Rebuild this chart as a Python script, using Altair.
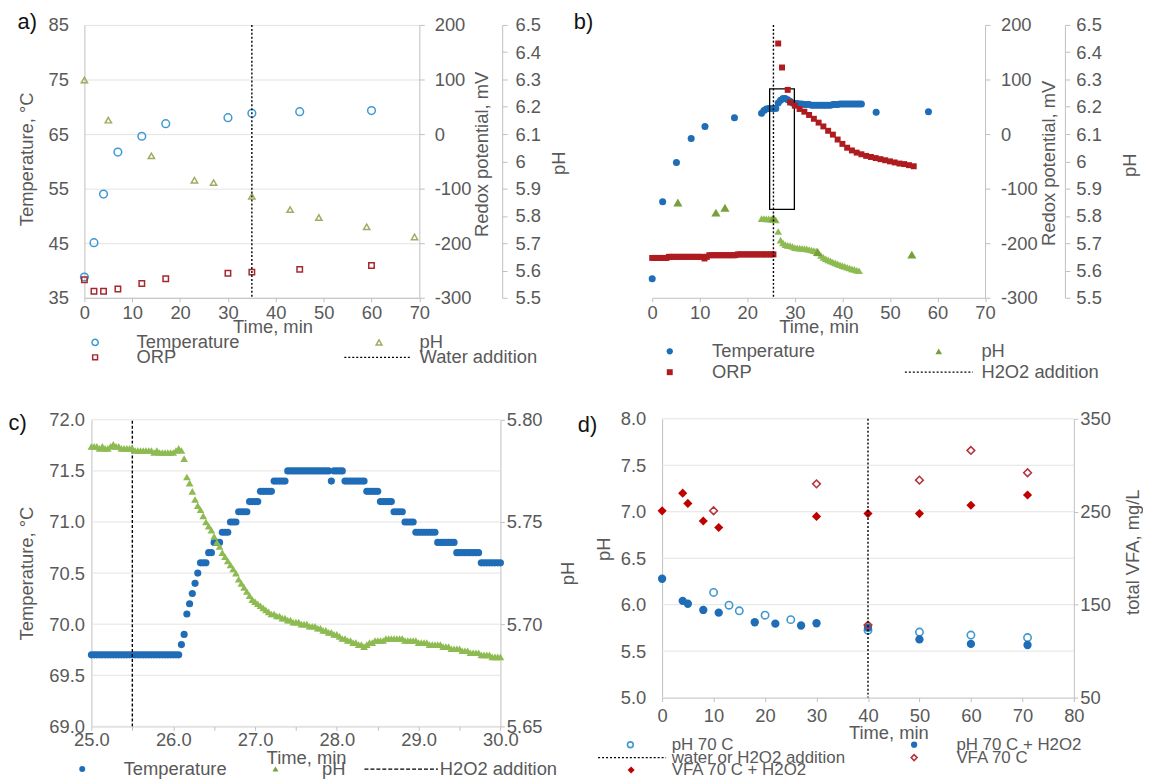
import altair as alt
import pandas as pd

# ======================= DATA =======================
# ---- panel a) water addition ----
a_temp_time = [0, 2, 4, 7, 12, 17, 30, 35, 45, 60]
a_temp = [38.8, 45.1, 54.0, 61.7, 64.6, 66.9, 68.0, 68.8, 69.1, 69.3]
a_orp_time = [0, 2, 4, 7, 12, 17, 30, 35, 45, 60]
a_orp = [-267, -288, -288, -284, -274, -265, -255, -253, -248, -241]
a_ph_time = [0, 5, 14, 23, 27, 35, 43, 49, 59, 69]
a_ph = [6.298, 6.151, 6.020, 5.931, 5.922, 5.872, 5.823, 5.794, 5.760, 5.723]
a_addition_time = [35]

# ---- panel b) H2O2 addition ----
b_temp_time = [0, 2.2, 5.1, 8.2, 11.1, 17.3,
               23.0, 23.5, 24.0, 24.5, 25.0, 25.5, 26.0, 26.5, 27.0, 27.5,
               28.0, 28.5, 29.0, 29.5, 30.0, 30.5, 31.0, 31.5, 32.0, 32.5,
               33.0, 33.5, 34.0, 34.5, 35.0, 35.5, 36.0, 36.5, 37.0, 37.5,
               38.0, 38.5, 39.0, 39.5, 40.0, 40.5, 41.0, 41.5, 42.0, 42.5,
               43.0, 43.5, 44.0, 47.1, 58.1]
b_temp = [38.5, 52.6, 59.8, 64.2, 66.4, 68.0,
          68.8, 69.3, 69.6, 69.7, 69.7, 69.7, 69.7, 70.7, 71.2, 71.5,
          71.5, 71.3, 71.0, 70.7, 70.6, 70.6, 70.5, 70.5, 70.4, 70.4,
          70.4, 70.3, 70.3, 70.3, 70.3, 70.3, 70.3, 70.3, 70.3, 70.3,
          70.4, 70.4, 70.4, 70.5, 70.5, 70.5, 70.5, 70.5, 70.5, 70.5,
          70.5, 70.5, 70.5, 69.0, 69.1]
b_orp_time = [0, 0.5, 1, 1.5, 2, 2.5, 3, 3.5, 4, 4.5, 5, 5.5, 6, 6.5, 7, 7.5,
              8, 8.5, 9, 9.5, 10, 10.5, 11, 11.5, 12, 12.5, 13, 13.5, 14, 14.5,
              15, 15.5, 16, 16.5, 17, 17.5, 18, 18.5, 19, 19.5, 20, 20.5, 21,
              21.5, 22, 22.5, 23, 23.5, 24, 24.5, 25, 25.5,
              26.5, 27.3, 28.5,
              29, 30, 31, 32, 33, 34, 35, 36, 37, 38, 39, 40, 41, 42, 43, 44,
              45, 46, 47, 48, 49, 50, 51, 52, 53, 54, 55]
b_orp = [-227, -227, -227, -227, -227, -227, -227, -225, -225, -225, -225,
         -225, -225, -225, -225, -225, -225, -225, -225, -225, -225, -225,
         -228, -225, -222, -222, -222, -222, -222, -222, -222, -222, -222,
         -222, -222, -222, -220.5, -220.5, -220.5, -220.5, -220.5, -220.5,
         -220.5, -220.5, -220.5, -220.5, -220.5, -220.5, -220.5, -220.5,
         -220.5, -220.5,
         166, 122, 81,
         58, 52, 46, 41, 35, 28, 21, 14, 6, -1, -10, -18, -25, -30, -34, -37,
         -40, -42, -44, -46, -48, -50, -52, -54, -55, -57, -59]
b_ph_log_time = [23.0, 23.5, 24.0, 24.5, 25.0, 25.5, 26.0, 26.5, 27.0, 27.5,
                 28.0, 28.5, 29.0, 29.5, 30.0, 30.5, 31.0, 31.5, 32.0, 32.5,
                 33.0, 33.5, 34.0, 34.5, 35.0, 35.5, 36.0, 36.5, 37.0, 37.5,
                 38.0, 38.5, 39.0, 39.5, 40.0, 40.5, 41.0, 41.5, 42.0, 42.5,
                 43.0, 43.5]
b_ph_log = [5.790, 5.790, 5.789, 5.789, 5.788, 5.787, 5.785, 5.743, 5.711, 5.701,
            5.695, 5.692, 5.691, 5.688, 5.684, 5.683, 5.682, 5.681, 5.680, 5.679,
            5.677, 5.675, 5.673, 5.671, 5.664, 5.655, 5.648, 5.643, 5.639, 5.635,
            5.631, 5.628, 5.624, 5.621, 5.618, 5.615, 5.612, 5.609, 5.606, 5.604,
            5.601, 5.599]
b_ph_spot_time = [5.4, 13.4, 15.3, 25.5, 34.8, 54.6]
b_ph_spot = [5.849, 5.812, 5.830, 5.792, 5.668, 5.658]
b_addition_time = [25.5]
b_box_time = [24.7, 29.9]
b_box_temp = [51.2, 73.3]

# ---- panel c) zoom 25-30 min (logger, one reading every 2 s) ----
c_time = [25 + i / 30 for i in range(151)]
c_temp_runs = [(69.7, 33), (69.8, 1), (69.9, 1), (70.1, 1), (70.2, 1), (70.3, 1),
               (70.4, 1), (70.5, 1), (70.6, 3), (70.7, 2), (70.8, 3), (70.9, 3),
               (71.0, 3), (71.1, 4), (71.2, 4), (71.3, 5), (71.4, 5), (71.5, 16),
               (71.4, 1), (71.5, 4), (71.4, 8), (71.3, 5), (71.2, 5), (71.1, 4),
               (71.0, 4), (70.9, 8), (70.8, 7), (70.7, 9), (70.6, 8)]
c_temp = [v for v, n in c_temp_runs for _ in range(n)]
c_ph = [5.787, 5.787, 5.787, 5.786, 5.787, 5.786, 5.786, 5.787, 5.788, 5.787,
        5.787, 5.786, 5.786, 5.786, 5.786, 5.786, 5.785, 5.785, 5.785, 5.785,
        5.785, 5.785, 5.785, 5.784, 5.785, 5.784, 5.784, 5.784, 5.784, 5.784,
        5.784, 5.785, 5.786, 5.785, 5.781, 5.772, 5.769, 5.765, 5.761, 5.758,
        5.756, 5.753, 5.750, 5.748, 5.746, 5.743, 5.740, 5.738, 5.735, 5.733,
        5.731, 5.729, 5.727, 5.725, 5.722, 5.720, 5.718, 5.716, 5.714, 5.712,
        5.711, 5.710, 5.709, 5.708, 5.707, 5.706, 5.705, 5.705, 5.704, 5.704,
        5.703, 5.703, 5.702, 5.702, 5.701, 5.701, 5.701, 5.700, 5.700, 5.700,
        5.699, 5.699, 5.699, 5.698, 5.698, 5.697, 5.697, 5.696, 5.696, 5.695,
        5.695, 5.694, 5.693, 5.693, 5.692, 5.692, 5.691, 5.691, 5.690, 5.690,
        5.689, 5.690, 5.691, 5.691, 5.692, 5.692, 5.692, 5.692, 5.693, 5.693,
        5.693, 5.693, 5.693, 5.693, 5.693, 5.692, 5.692, 5.692, 5.692, 5.692,
        5.691, 5.691, 5.691, 5.691, 5.690, 5.690, 5.690, 5.690, 5.690, 5.689,
        5.689, 5.689, 5.688, 5.688, 5.688, 5.688, 5.687, 5.687, 5.687, 5.686,
        5.686, 5.686, 5.686, 5.685, 5.685, 5.685, 5.685, 5.684, 5.684, 5.684,
        5.684]
c_addition_time = [25.5]

# ---- panel d) pH and VFA ----
d_ph70_time = [10, 13, 15, 20, 25, 40, 50, 60, 71]
d_ph70 = [6.132, 5.994, 5.934, 5.887, 5.839, 5.725, 5.705, 5.673, 5.646]
d_phh_time = [0, 4, 5, 8, 11, 18, 22, 27, 30, 40, 50, 60, 71]
d_phh = [6.279, 6.041, 6.010, 5.943, 5.914, 5.811, 5.796, 5.776, 5.800, 5.752,
         5.626, 5.578, 5.566]
d_vfa70_time = [10, 30, 40, 50, 60, 71]
d_vfa70 = [251, 280, 128, 284, 316, 292]
d_vfah_time = [0, 4, 5, 8, 11, 30, 40, 50, 60, 71]
d_vfah = [251, 270, 259, 240, 233, 245, 248, 248, 257, 268]
d_addition_time = [40]

# ---- tick values ----
ab_x_ticks = [0, 10, 20, 30, 40, 50, 60, 70]
ab_temp_ticks = [35, 45, 55, 65, 75, 85]
ab_orp_ticks = [-300, -200, -100, 0, 100, 200]
ab_ph_ticks = [5.5, 5.6, 5.7, 5.8, 5.9, 6.0, 6.1, 6.2, 6.3, 6.4, 6.5]
c_x_ticks = [25, 25.5, 26, 26.5, 27, 27.5, 28, 28.5, 29, 29.5, 30]
c_temp_ticks = [69.0, 69.5, 70.0, 70.5, 71.0, 71.5, 72.0]
c_ph_ticks = [5.65, 5.70, 5.75, 5.80]
d_x_ticks = [0, 10, 20, 30, 40, 50, 60, 70, 80]
d_ph_ticks = [5.0, 5.5, 6.0, 6.5, 7.0, 7.5, 8.0]
d_vfa_ticks = [50, 150, 250, 350]

# ======================= STYLE =======================
FONT = "Liberation Sans"
TXT = "#595959"
FS = 18.5
GRIDC = "#E3E3E3"
AXC = "#BFBFBF"
A_BLUE = "#3E99D2"
A_RED = "#A5282F"
OLIVE = "#A3AA63"
BLUE = "#1F6DB6"
RED = "#AE1C20"
GREEN = "#8DBB52"
SPOT_GREEN = "#77A03A"
D_LBLUE = "#3F98CE"
VFA_RED = "#C00000"
VFA_OPEN = "#B3363E"
MINUS = "datum.value < 0 ? '-' + format(-datum.value, 'd') : format(datum.value, 'd')"

ONE = pd.DataFrame({"k": [0]})


def frame(t, v):
    return pd.DataFrame({"t": t, "v": v})


def x_enc(domain, ticks, fmt, title_x, title_y, label_pad, rng=None, label_expr=None):
    sc = dict(domain=domain, nice=False, zero=False)
    if rng is not None:
        sc["range"] = rng
    ax = dict(values=ticks, format=fmt, title="Time, min", grid=False, domain=True,
              domainColor=AXC, ticks=True, tickSize=4, tickColor=AXC,
              labelPadding=label_pad, labelFlush=False, labelOverlap=False,
              titleX=title_x, titleY=title_y, titleAlign="center", titleBaseline="middle")
    if label_expr:
        ax["labelExpr"] = label_expr
    return alt.X("t:Q", scale=alt.Scale(**sc), axis=alt.Axis(**ax))


def y_scale(domain, rng=None):
    sc = dict(domain=domain, nice=False, zero=False)
    if rng is not None:
        sc["range"] = rng
    return alt.Scale(**sc)


def y_enc(domain, ticks, title, orient, title_x, title_y, label_pad, fmt=None,
          label_expr=None, grid=False, tick_size=0, offset=0, rng=None):
    ax = dict(values=ticks, title=title, orient=orient, grid=grid, gridColor=GRIDC,
              domain=True, domainColor=AXC, ticks=tick_size > 0, tickSize=tick_size,
              tickColor=AXC, labelPadding=label_pad, labelFlush=False,
              labelOverlap=False, titleX=title_x, titleY=title_y, titleAngle=270,
              titleAlign="center", titleBaseline="middle", offset=offset)
    if fmt:
        ax["format"] = fmt
    if label_expr:
        ax["labelExpr"] = label_expr
    return alt.Y("v:Q", scale=y_scale(domain, rng), axis=alt.Axis(**ax))


def points(t, v, x, y, shape, color, size, filled, sw=1.5):
    return alt.Chart(frame(t, v)).mark_point(
        shape=shape, filled=filled, color=color, size=size, strokeWidth=sw, opacity=1
    ).encode(x=x, y=y)


def vline(times, x, dash):
    return alt.Chart(pd.DataFrame({"t": times})).mark_rule(
        color="black", strokeDash=dash, strokeWidth=1.4).encode(x=x)


def leg_sym(x, y, shape, color, size, filled, sw=1.5):
    return alt.Chart(ONE).mark_point(
        shape=shape, filled=filled, color=color, size=size, strokeWidth=sw, opacity=1
    ).encode(x=alt.value(x), y=alt.value(y))


def leg_txt(x, y, text, size=FS):
    return alt.Chart(ONE).mark_text(
        text=text, align="left", baseline="middle", font=FONT, fontSize=size, color=TXT
    ).encode(x=alt.value(x), y=alt.value(y))


def leg_line(x1, x2, y, dash):
    return alt.Chart(ONE).mark_rule(color="black", strokeDash=dash, strokeWidth=1.3).encode(
        x=alt.value(x1), x2=alt.value(x2), y=alt.value(y))


def plabel(text, x, y):
    return alt.Chart(ONE).mark_text(
        text=text, align="left", baseline="middle", font=FONT, fontSize=22, color="#111111"
    ).encode(x=alt.value(x), y=alt.value(y))


# ======================= PANEL a =======================
xa = x_enc([0, 70], ab_x_ticks, "d", 189.6, 29.5, 2)
ya_t = y_enc([35, 85], ab_temp_ticks, "Temperature, °C", "left", -58.4, 135, 16,
             fmt="d", grid=True)
ya_p = y_enc([5.5, 6.5], ab_ph_ticks, "pH", "right", 57, 139, 8, fmt=".1~f",
             tick_size=5, offset=83.5)
ya_o = y_enc([-300, 200], ab_orp_ticks, "Redox potential, mV", "right", 63, 130, 10,
             label_expr=MINUS, tick_size=5)

panel_a = alt.layer(
    points(a_temp_time, a_temp, xa, ya_t, "circle", A_BLUE, 60, False),
    points(a_ph_time, a_ph, xa, ya_p, "triangle-up", OLIVE, 40, False),
    points(a_orp_time, a_orp, xa, ya_o, "square", A_RED, 30, False),
    vline(a_addition_time, xa, [2, 2]),
    leg_sym(10.8, 320, "circle", A_BLUE, 40, False),
    leg_txt(52.6, 320, "Temperature"),
    leg_sym(297, 320, "triangle-up", OLIVE, 34, False),
    leg_txt(337.8, 320, "pH"),
    leg_sym(10.8, 335, "square", A_RED, 24, False),
    leg_txt(52.6, 335, "ORP"),
    leg_line(262, 329.6, 335, [2, 2]),
    leg_txt(337.8, 335, "Water addition"),
    plabel("a)", -67.4, -3),
).resolve_scale(y="independent").properties(width=337.6, height=275)

# ======================= PANEL b =======================
xb = x_enc([0, 70], ab_x_ticks, "d", 167.7, 29.5, 2)
yb_t = y_enc([35, 85], ab_temp_ticks, "Temperature, °C", "left", -49, 135, 16,
             fmt="d", grid=True)
yb_p = y_enc([5.5, 6.5], ab_ph_ticks, "pH", "right", 65, 141, 6, fmt=".1~f",
             tick_size=5, offset=80.5)
yb_o = y_enc([-300, 200], ab_orp_ticks, "Redox potential, mV", "right", 63.5, 139, 10.5,
             label_expr=MINUS, tick_size=5)

b_box = alt.Chart(pd.DataFrame({"t": [b_box_time[0]], "t2": [b_box_time[1]],
                                "v": [b_box_temp[0]], "v2": [b_box_temp[1]]})).mark_rect(
    fillOpacity=0, stroke="black", strokeWidth=1.3
).encode(x=xb, x2="t2:Q", y=alt.Y("v:Q", scale=y_scale([35, 85]), axis=None), y2="v2:Q")

b_ph_df = pd.concat([
    pd.DataFrame({"t": b_ph_log_time, "v": b_ph_log, "kind": "logger"}),
    pd.DataFrame({"t": b_ph_spot_time, "v": b_ph_spot, "kind": "spot"}),
])
b_ph_layer = alt.Chart(b_ph_df).mark_point(shape="triangle-up", filled=True, opacity=1,
                                           strokeWidth=1).encode(
    x=xb, y=yb_p,
    size=alt.Size("kind:N", scale=alt.Scale(domain=["logger", "spot"], range=[60, 85]), legend=None),
    color=alt.Color("kind:N", scale=alt.Scale(domain=["logger", "spot"], range=[GREEN, SPOT_GREEN]), legend=None),
)

panel_b = alt.layer(
    alt.layer(points(b_temp_time, b_temp, xb, yb_t, "circle", BLUE, 50, True, 1), b_box),
    b_ph_layer,
    points(b_orp_time, b_orp, xb, yb_o, "square", RED, 36, True, 1),
    vline(b_addition_time, xb, [2, 2]),
    leg_sym(17.7, 329, "circle", BLUE, 40, True, 1),
    leg_txt(60.3, 329, "Temperature"),
    leg_sym(288.8, 329, "triangle-up", SPOT_GREEN, 45, True, 1),
    leg_txt(331.8, 329, "pH"),
    leg_sym(17.7, 350, "square", RED, 36, True, 1),
    leg_txt(60.3, 350, "ORP"),
    leg_line(254.7, 323.3, 350, [2, 2]),
    leg_txt(331.8, 350, "H2O2 addition"),
    plabel("b)", -79, -3),
).resolve_scale(y="independent").properties(width=335.5, height=275)

# ======================= PANEL c =======================
C_XR = [7.1, 419.3]
C_YR = [310, 1]
xc = x_enc([25, 30], c_x_ticks, ".1f", 223.4, 31.5, 0.5, rng=C_XR,
           label_expr="datum.value % 1 === 0 ? format(datum.value, '.1f') : ''")
yc_t = y_enc([69, 72], c_temp_ticks, "Temperature, °C", "left", -65.5, 155.5, 7,
             fmt=".1f", offset=-7.1, rng=C_YR)
yc_p = y_enc([5.65, 5.80], c_ph_ticks, "pH", "right", 68, 155.5, 2, fmt=".2f",
             tick_size=4, rng=C_YR)

c_grid = alt.Chart(pd.DataFrame({"t": [25] * len(c_temp_ticks), "t2": [30] * len(c_temp_ticks),
                                 "v": c_temp_ticks})).mark_rule(color=GRIDC, strokeWidth=1).encode(
    x=xc, x2="t2:Q", y=yc_t)
c_add = alt.Chart(pd.DataFrame({"t": c_addition_time, "v": [69], "v2": [72]})).mark_rule(
    color="black", strokeDash=[3, 2], strokeWidth=1.4).encode(x=xc, y=yc_t, y2="v2:Q")

panel_c = alt.layer(
    alt.layer(c_grid, points(c_time, c_temp, xc, yc_t, "circle", BLUE, 52, True, 1), c_add),
    points(c_time, c_ph, xc, yc_p, "triangle-up", GREEN, 60, True, 1),
    leg_sym(-2.2, 353, "circle", BLUE, 36, True, 1),
    leg_txt(39.6, 353, "Temperature"),
    leg_sym(192.6, 353, "triangle-up", SPOT_GREEN, 36, True, 1),
    leg_txt(239.6, 353, "pH"),
    leg_line(282.3, 356.3, 353, [4, 2]),
    leg_txt(358.2, 353, "H2O2 addition"),
    plabel("c)", -76.4, 4),
).resolve_scale(y="independent").properties(width=419.3, height=310)

# ======================= PANEL d =======================
D_XR = [10, 425]
LFS = 17
xd = x_enc([0, 80], d_x_ticks, "d", 238, 35, 5, rng=D_XR)
yd_p = y_enc([5, 8], d_ph_ticks, "pH", "left", -59, 131, 16.4, fmt=".1f", offset=-10)
yd_v = y_enc([50, 350], d_vfa_ticks, "total VFA, mg/L", "right", 59.4, 134, 2, fmt="d",
             tick_size=4)

d_grid = alt.Chart(pd.DataFrame({"t": [0] * len(d_ph_ticks), "t2": [80] * len(d_ph_ticks),
                                 "v": d_ph_ticks})).mark_rule(color=GRIDC, strokeWidth=1).encode(
    x=xd, x2="t2:Q", y=yd_p)

panel_d = alt.layer(
    alt.layer(
        d_grid,
        points(d_ph70_time, d_ph70, xd, yd_p, "circle", D_LBLUE, 55, False, 1.6),
        points(d_phh_time, d_phh, xd, yd_p, "circle", BLUE, 70, True, 1),
    ),
    alt.layer(
        points(d_vfa70_time, d_vfa70, xd, yd_v, "diamond", VFA_OPEN, 60, False, 1.6),
        points(d_vfah_time, d_vfah, xd, yd_v, "diamond", VFA_RED, 85, True, 1),
    ),
    vline(d_addition_time, xd, [2, 2]),
    leg_sym(-22, 328.5, "circle", D_LBLUE, 34, False, 1.6),
    leg_txt(19.6, 328.5, "pH 70 C", LFS),
    leg_sym(264, 328.5, "circle", BLUE, 40, True, 1),
    leg_txt(306.6, 328.5, "pH 70 C + H2O2", LFS),
    leg_line(-54.5, 14, 341.5, [2, 2]),
    leg_txt(19.6, 341.5, "water or H2O2 addition", LFS),
    leg_sym(264, 341.5, "diamond", VFA_OPEN, 36, False, 1.6),
    leg_txt(306.6, 341.5, "VFA 70 C", LFS),
    leg_sym(-21.2, 354, "diamond", VFA_RED, 50, True, 1),
    leg_txt(19.6, 354, "VFA 70 C + H2O2", LFS),
    plabel("d)", -75, 6),
).resolve_scale(y="independent").properties(width=425, height=281)

# ======================= LAYOUT =======================
chart = alt.concat(
    panel_a, panel_b, panel_c, panel_d,
    columns=2, spacing={"row": 122, "column": 152.3}, bounds="flush", align="each",
).properties(
    padding={"left": 0, "top": 0, "right": 0, "bottom": 0}
).configure(font=FONT).configure_view(stroke=None).configure_axis(
    labelFont=FONT, titleFont=FONT, labelFontSize=FS, titleFontSize=FS,
    labelColor=TXT, titleColor=TXT, titleFontWeight="normal",
)

chart.save("out.html", embed_options={"renderer": "svg", "actions": False})
